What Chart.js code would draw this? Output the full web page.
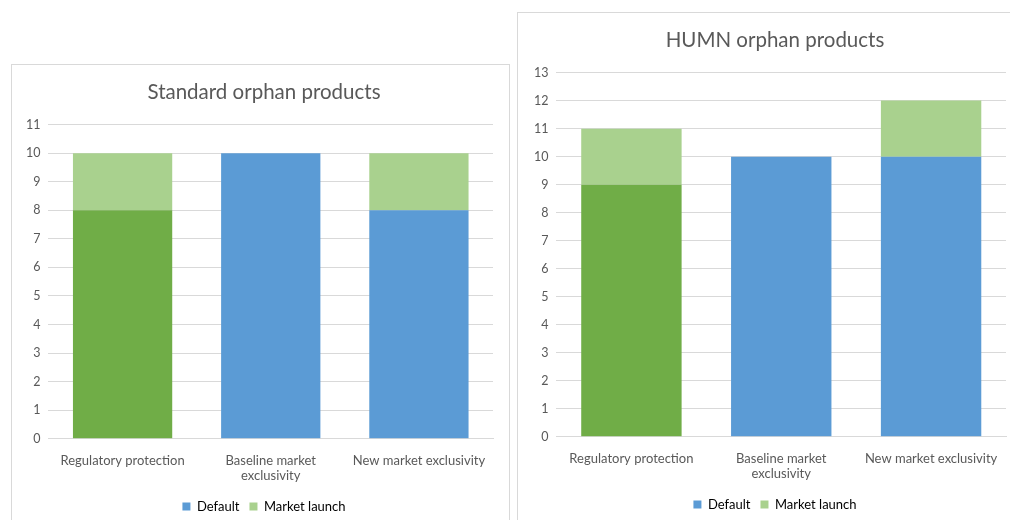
<!DOCTYPE html>
<html><head><meta charset="utf-8">
<script src="https://cdn.jsdelivr.net/npm/chart.js@4.4.0/dist/chart.umd.min.js"></script>
<style>
html,body{margin:0;padding:0;background:#fff;width:1010px;height:520px;overflow:hidden;position:relative;}
.box{position:absolute;border:1px solid #d9d9d9;background:#fff;box-sizing:border-box;}
#b1{left:11px;top:64px;width:499px;height:470px;}
#b2{left:517px;top:12px;width:507px;height:520px;}
canvas{position:absolute;left:0;top:0;}
</style></head><body>
<div class="box" id="b1"><canvas id="c1" width="498" height="458"></canvas></div>
<div class="box" id="b2"><canvas id="c2" width="506" height="508"></canvas></div>
<script>
const categories = ['Regulatory protection', ['Baseline market', 'exclusivity'], 'New market exclusivity'];
const seriesNames = ['Default', 'Market launch'];
const standardDefault = [8, 10, 8];
const standardLaunch = [2, 0, 2];
const humnDefault = [9, 10, 10];
const humnLaunch = [2, 0, 2];
const standardMax = 11;
const humnMax = 13;

const BLUE = '#5B9BD5', DGREEN = '#70AD47', LGREEN = '#A9D18E';
const FONT = 'Lato, "Open Sans", sans-serif';
const TXT = '#595959';

function makeChart(id, title, defVals, launchVals, maxY, pad, rightGap) {
  const ctx = document.getElementById(id);
  return new Chart(ctx, {
    type: 'bar',
    data: {
      labels: categories,
      datasets: [
        { label: seriesNames[0], data: defVals, backgroundColor: [DGREEN, BLUE, BLUE], borderWidth: 0 },
        { label: seriesNames[1], data: launchVals, backgroundColor: LGREEN, borderWidth: 0 }
      ]
    },
    options: {
      responsive: false,
      animation: false,
      devicePixelRatio: 1,
      datasets: { bar: { barPercentage: 0.67, categoryPercentage: 1.0 } },
      layout: { padding: pad },
      plugins: {
        title: { display: true, text: title, color: TXT, font: { family: FONT, size: 20.5, weight: 'normal' }, padding: { top: 15, bottom: 20 } },
        legend: {
          position: 'bottom',
          labels: {
            color: TXT, font: { family: FONT, size: 13 }, boxWidth: 8, boxHeight: 8, padding: 10,
            generateLabels: (chart) => chart.data.datasets.map((ds, i) => ({
              text: ds.label, fillStyle: i === 0 ? BLUE : LGREEN, strokeStyle: 'transparent', lineWidth: 0, datasetIndex: i, hidden: false
            }))
          }
        },
        tooltip: { enabled: false }
      },
      scales: {
        x: {
          stacked: true,
          grid: { display: false },
          border: { display: true, color: '#d9d9d9' },
          ticks: { color: TXT, font: { family: FONT, size: 13 }, maxRotation: 0, minRotation: 0, autoSkip: false, padding: 6 }
        },
        y: {
          stacked: true, min: 0, max: maxY,
          grid: { color: '#d9d9d9', drawTicks: false },
          border: { display: false },
          ticks: { stepSize: 1, color: TXT, font: { family: FONT, size: 12.5 }, padding: 8 }
        },
        yGap: {
          position: 'right', min: 0, max: 1,
          grid: { display: false, drawTicks: false },
          border: { display: false },
          ticks: { display: false },
          afterFit: (s) => { s.width = rightGap; }
        }
      }
    }
  });
}

makeChart('c1', 'Standard orphan products', standardDefault, standardLaunch, standardMax, { top: 0, right: 0, bottom: 0, left: 6 }, 17);
makeChart('c2', 'HUMN orphan products', humnDefault, humnLaunch, humnMax, { top: 0, right: 0, bottom: 0, left: 8 }, 18);
</script>
</body></html>
